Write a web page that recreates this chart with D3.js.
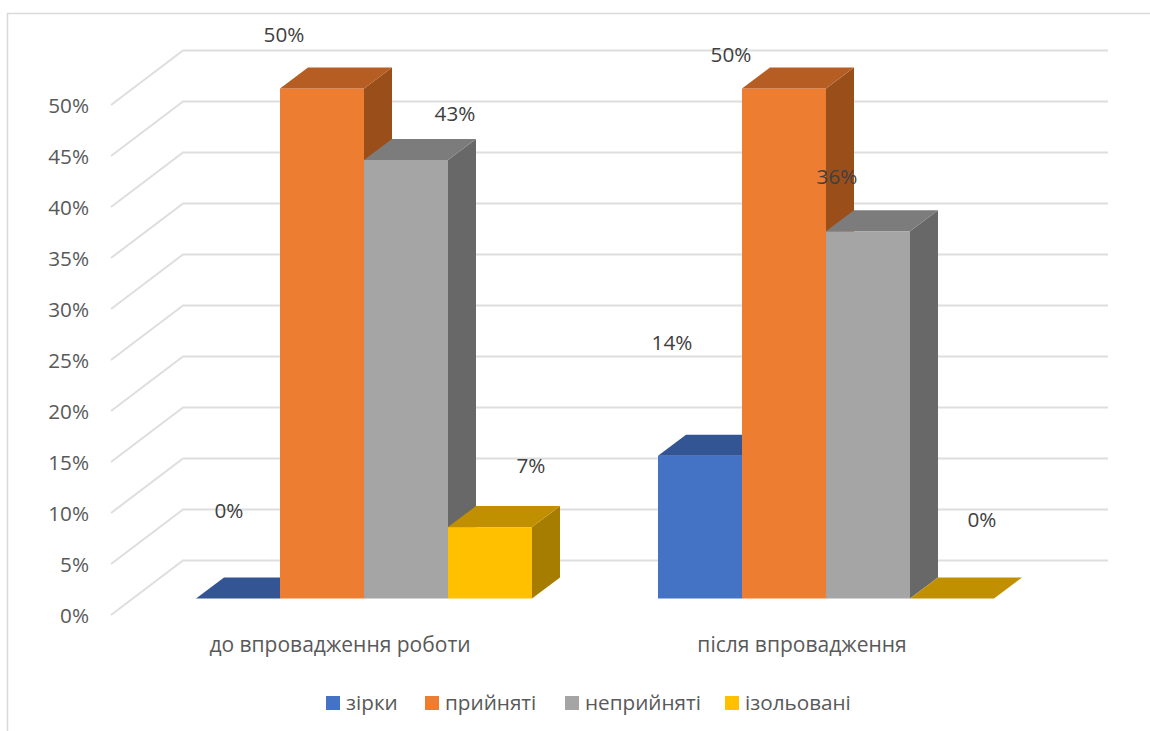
<!DOCTYPE html>
<html>
<head>
<meta charset="utf-8">
<script src="https://cdn.jsdelivr.net/npm/d3@7"></script>
<style>
  html, body { margin: 0; background: #fff; }
  svg { display: block; }
  text { font-family: "Open Sans", sans-serif; }
  .axis path, .axis line { display: none; }
  .axis text { font-family: "Open Sans", sans-serif; font-size: 20.7px; fill: #595959; }
  .axis.cat text { font-size: 21px; }
</style>
</head>
<body>
<script>
const categories = ['до впровадження роботи', 'після впровадження']
const seriesNames = ['зірки', 'прийняті', 'неприйняті', 'ізольовані']
const zirky = [0, 14]
const pryiniati = [50, 50]
const nepryiniati = [43, 36]
const izolovani = [7, 0]
const seriesValues = [zirky, pryiniati, nepryiniati, izolovani]
const yTicks = [0, 5, 10, 15, 20, 25, 30, 35, 40, 45, 50]

const frontColors = ['#4472c4', '#ed7d31', '#a5a5a5', '#ffc000']
const topColors = ['#335593', '#b55d22', '#7c7c7c', '#c19000']
const sideColors = ['#2a4778', '#9a4f1b', '#686868', '#a67d00']

// label offsets from the front-top centre of each bar, Excel left them scattered
const labelOffsets = [
  [[-9, -88], [-28, -113]],
  [[-38, -54], [-53, -34]],
  [[49, -46], [-31, -55]],
  [[41, -61], [30, -79]]
]

const width = 1150
const height = 731
const wallDx = 72
const wallDy = -54.5
const barDy = -16.5
const depthDx = 28
const depthDy = -21
const labelShift = -24

const svg = d3.select('body').append('svg')
  .attr('width', width)
  .attr('height', height)

const y = d3.scaleLinear().domain([0, 50]).range([615, 105])
const xGroup = d3.scaleBand().domain(d3.range(categories.length)).range([133, 1057])
const xBar = d3.scaleBand().domain(d3.range(seriesNames.length)).range([0, 336])
const barX = (g, s) => xGroup(g) + (xGroup.bandwidth() - 336) / 2 + xBar(s)

// chart frame, only top and left edges are visible
svg.append('path')
  .attr('d', d3.line()([[7.5, height], [7.5, 13.5], [width, 13.5]]))
  .attr('fill', 'none')
  .attr('stroke', '#d9d9d9')
  .attr('stroke-width', 1.5)

// gridlines on the floor side wall and back wall
const grid = svg.append('g')
  .attr('fill', 'none')
  .attr('stroke', '#dedede')
  .attr('stroke-width', 2)
grid.selectAll('path')
  .data(yTicks)
  .enter().append('path')
  .attr('d', d => d3.line()([[111, y(d)], [111 + wallDx, y(d) + wallDy], [1108, y(d) + wallDy]]))

svg.append('g')
  .attr('class', 'axis')
  .attr('transform', 'translate(89,0.5)')
  .call(d3.axisLeft(y).tickValues(yTicks).tickSize(0).tickPadding(0).tickFormat(d => d + '%'))

// bars, drawn left to right so the next bar hides the previous side face
const bars = svg.append('g')
categories.forEach((cat, g) => {
  seriesNames.forEach((name, s) => {
    const v = seriesValues[s][g]
    const x0 = barX(g, s)
    const x1 = x0 + xBar.bandwidth()
    const top = y(v) + barDy
    const base = y(0) + barDy
    if (v > 0) {
      bars.append('path')
        .attr('d', d3.line()([[x1, top], [x1 + depthDx, top + depthDy], [x1 + depthDx, base + depthDy], [x1, base]]) + 'Z')
        .attr('fill', sideColors[s])
      bars.append('rect')
        .attr('x', x0)
        .attr('y', top)
        .attr('width', x1 - x0)
        .attr('height', base - top)
        .attr('fill', frontColors[s])
    }
    bars.append('path')
      .attr('d', d3.line()([[x0, top], [x1, top], [x1 + depthDx, top + depthDy], [x0 + depthDx, top + depthDy]]) + 'Z')
      .attr('fill', topColors[s])
  })
})

// data labels go after the bars, 36% sits over the orange side
seriesNames.forEach((name, s) => {
  categories.forEach((cat, g) => {
    const v = seriesValues[s][g]
    svg.append('text')
      .attr('x', barX(g, s) + xBar.bandwidth() / 2 + labelOffsets[s][g][0])
      .attr('y', y(v) + barDy + labelOffsets[s][g][1])
      .attr('dy', '0.35em')
      .attr('text-anchor', 'middle')
      .attr('font-size', 20.7)
      .attr('fill', '#404040')
      .text(v + '%')
  })
})

const xAxis = d3.axisBottom(xGroup).tickSize(0).tickPadding(0).tickFormat(i => categories[i])
svg.append('g')
  .attr('class', 'axis cat')
  .attr('transform', `translate(${labelShift},637)`)
  .call(xAxis)

// legend
const legendX = [326, 425, 565, 725]
const legend = svg.append('g')
seriesNames.forEach((name, s) => {
  legend.append('rect')
    .attr('x', legendX[s])
    .attr('y', 696)
    .attr('width', 14)
    .attr('height', 14)
    .attr('fill', frontColors[s])
  legend.append('text')
    .attr('x', legendX[s] + 20)
    .attr('y', 703)
    .attr('dy', '0.35em')
    .attr('font-size', 20.7)
    .attr('fill', '#595959')
    .text(name)
})
</script>
</body>
</html>
